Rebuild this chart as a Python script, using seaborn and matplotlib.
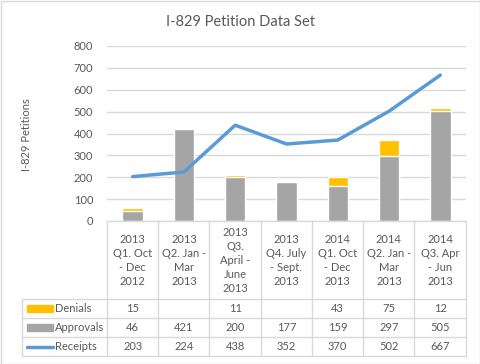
import matplotlib
matplotlib.use("Agg")
import matplotlib.pyplot as plt
import seaborn as sns
import pandas as pd
from matplotlib.patches import Rectangle
from matplotlib.lines import Line2D

# data
quarters = ["2013\nQ1. Oct\n- Dec\n2012", "2013\nQ2. Jan -\nMar\n2013",
            "2013\nQ3.\nApril -\nJune\n2013", "2013\nQ4. July\n- Sept.\n2013",
            "2014\nQ1. Oct\n- Dec\n2013", "2014\nQ2. Jan -\nMar\n2013",
            "2014\nQ3. Apr\n- Jun\n2013"]
denials = [15, None, 11, None, 43, 75, 12]
approvals = [46, 421, 200, 177, 159, 297, 505]
receipts = [203, 224, 438, 352, 370, 502, 667]

YELLOW = "#FFC000"
GRAY = "#A5A5A5"
BLUE = "#5B9BD5"
TXT = "#595959"
GRID = "#D9D9D9"

sns.set_style("white")
plt.rcParams["font.family"] = ["Lato", "DejaVu Sans"]

df = pd.DataFrame({"q": quarters, "den": [d if d else 0 for d in denials],
                   "app": approvals, "rec": receipts})
df["total"] = df["den"] + df["app"]
df["pos"] = range(len(df))

W, H = 481, 364
fig = plt.figure(figsize=(W / 100, H / 100), dpi=100)

def fx(px):
    return px / W

def fy(py):
    return 1 - py / H

x0, x1 = 107, 466
y0, y1 = 221, 46
ax = fig.add_axes([fx(x0), fy(y0), fx(x1) - fx(x0), fy(y1) - fy(y0)])

# stacked bars: total (yellow) behind approvals (gray)
sns.barplot(data=df, x="q", y="total", color=YELLOW, width=0.4, saturation=1, ax=ax)
sns.barplot(data=df, x="q", y="app", color=GRAY, width=0.4, saturation=1, ax=ax)
sns.lineplot(data=df, x="pos", y="rec", color=BLUE, lw=2.5, ax=ax, zorder=4,
             solid_capstyle="round", solid_joinstyle="round")

ax.set_xlim(-0.5, 6.5)
ax.set_ylim(0, 800)
ax.set_yticks(range(0, 801, 100))
ax.yaxis.grid(True, color=GRID, lw=1)
ax.set_axisbelow(True)
for s in ax.spines.values():
    s.set_visible(False)
ax.set_xticks([])
ax.set_xlabel("")
ax.set_ylabel("")
ax.tick_params(axis="y", length=0, labelsize=8, labelcolor=TXT, pad=10)

# title and y label
fig.text(0.5, fy(22), "I-829 Petition Data Set", ha="center", va="center",
         fontsize=10.5, color=TXT)
fig.text(fx(27), fy(135), "I-829 Petitions", ha="center", va="center",
         rotation=90, fontsize=8, color=TXT)

# data table
cols = [107, 158.3, 209.5, 260.8, 312, 363.3, 414.5, 466]
rows = [221, 299, 318, 337, 356]
left = 22
lc = GRID
for cx in cols:
    fig.add_artist(Line2D([fx(cx)] * 2, [fy(rows[0]), fy(rows[-1])], color=lc, lw=1))
fig.add_artist(Line2D([fx(left)] * 2, [fy(rows[1]), fy(rows[-1])], color=lc, lw=1))
fig.add_artist(Line2D([fx(x0), fx(x1)], [fy(rows[0])] * 2, color=lc, lw=1))
for ry in rows[1:]:
    fig.add_artist(Line2D([fx(left), fx(x1)], [fy(ry)] * 2, color=lc, lw=1))

for i, q in enumerate(quarters):
    cx = (cols[i] + cols[i + 1]) / 2
    fig.text(fx(cx), fy(260.5), q, ha="center", va="center", fontsize=8,
             color=TXT, linespacing=1.35)

series = [("Denials", denials, YELLOW, "bar"), ("Approvals", approvals, GRAY, "bar"),
          ("Receipts", receipts, BLUE, "line")]
for r, (name, vals, c, kind) in enumerate(series):
    cy = (rows[r + 1] + rows[r + 2]) / 2
    if kind == "bar":
        fig.add_artist(Rectangle((fx(27), fy(cy + 3.5)), fx(26), fy(0) - fy(7),
                                 color=c, transform=fig.transFigure))
    else:
        fig.add_artist(Line2D([fx(27), fx(53)], [fy(cy)] * 2, color=c, lw=2.5,
                              solid_capstyle="round"))
    fig.text(fx(55), fy(cy), name, ha="left", va="center", fontsize=8, color=TXT)
    for i, v in enumerate(vals):
        if v is None:
            continue
        cx = (cols[i] + cols[i + 1]) / 2
        fig.text(fx(cx), fy(cy), str(v), ha="center", va="center", fontsize=8, color=TXT)

# outer border
fig.add_artist(Rectangle((0.5 / W, 0.5 / H), 1 - 1 / W, 1 - 1 / H, fill=False,
                         edgecolor=GRID, lw=1, transform=fig.transFigure))

fig.savefig("out.png", dpi=100)
